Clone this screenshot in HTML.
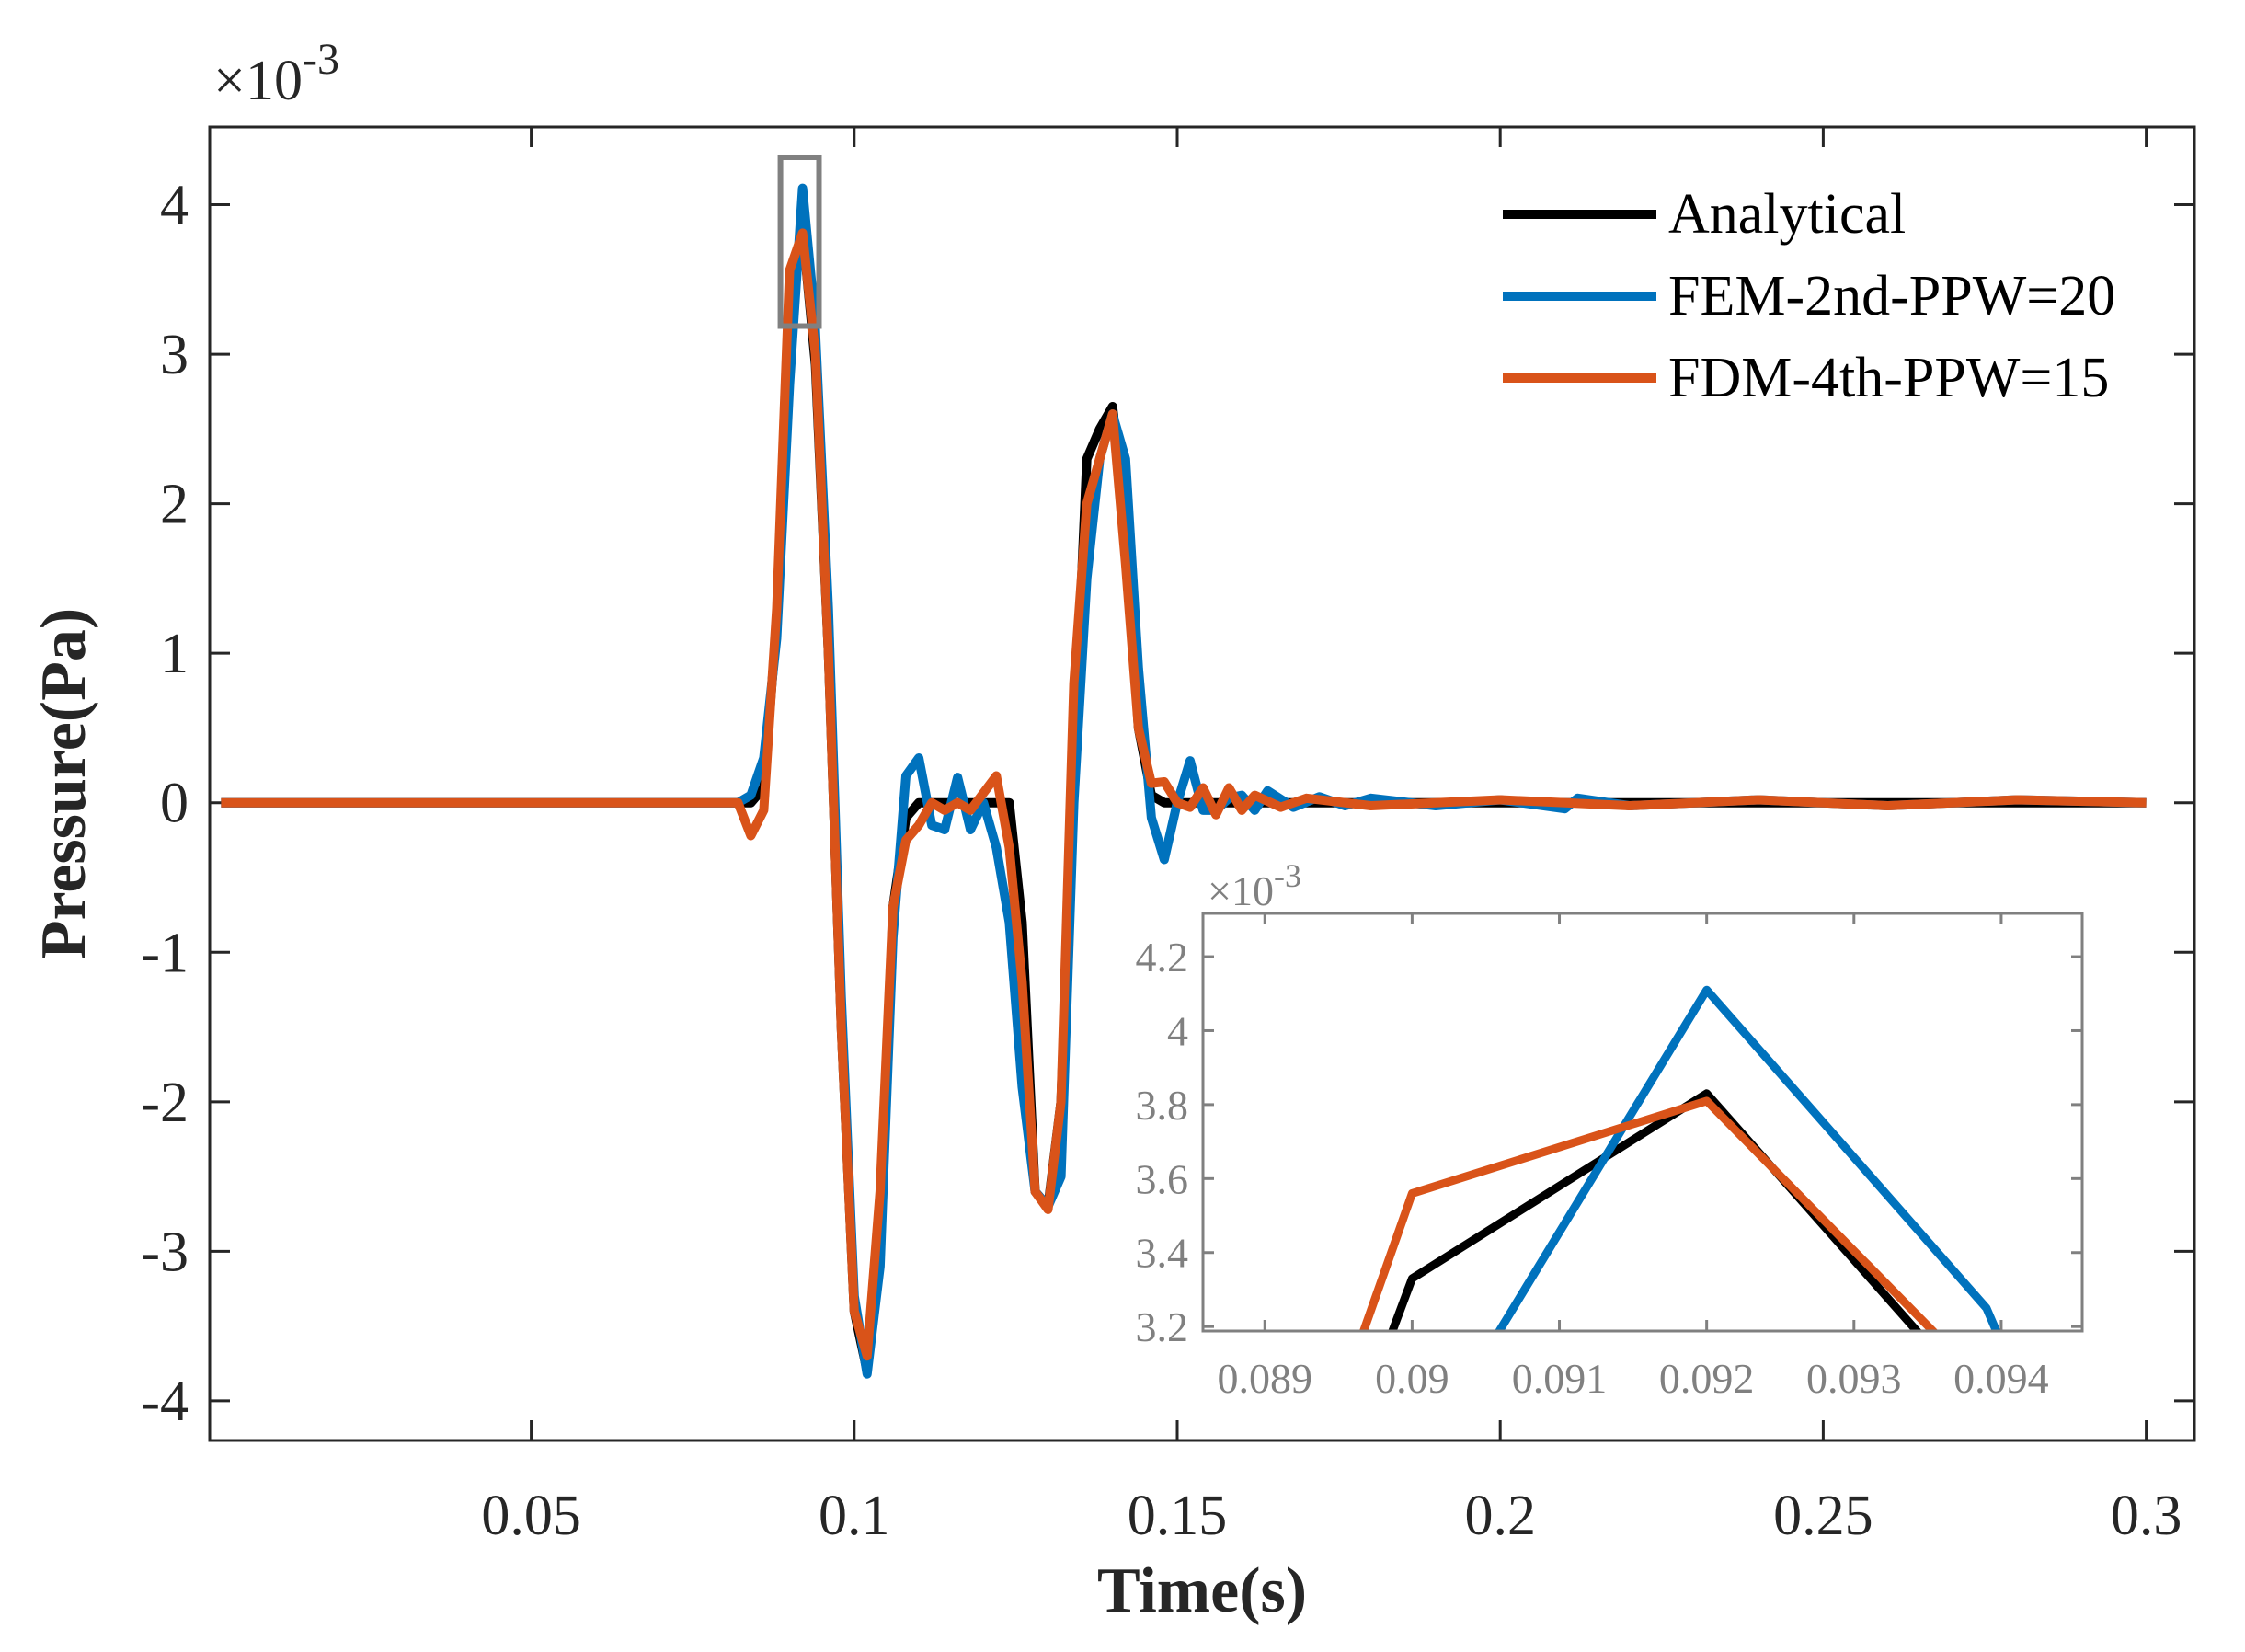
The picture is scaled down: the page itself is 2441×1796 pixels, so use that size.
<!DOCTYPE html>
<html><head><meta charset="utf-8"><style>
html,body{margin:0;padding:0;background:#fff;width:2441px;height:1796px;overflow:hidden;}
svg{display:block;}
text{font-family:"Liberation Serif",serif;}
</style></head><body>
<svg id="chart" width="2441" height="1796" viewBox="0 0 2441 1796" xmlns="http://www.w3.org/2000/svg">
<g id="main"></g>
<g id="inset"></g>
</svg>
<script>
// ---- data (pressure in 1e-3 Pa) ----
const anaT = [0.002,0.084,0.086,0.088,0.090,0.092,0.094,0.096,0.098,0.100,0.102,0.104,0.106,0.108,0.110,0.124,0.126,0.128,0.130,0.132,0.134,0.136,0.138,0.140,0.142,0.144,0.146,0.148,0.300];
const anaV = [0,0,0.1,1.2,3.33,3.83,2.93,1.0,-1.5,-3.4,-3.8,-3.0,-0.7,-0.1,0,0,-0.8,-2.6,-2.7,-2.0,0.3,2.3,2.5,2.65,1.9,0.5,0.05,0,0];
const femT = [0.002,0.082,0.084,0.086,0.088,0.090,0.092,0.0939,0.096,0.098,0.100,0.102,0.104,0.106,0.108,0.110,0.112,0.114,0.116,0.118,0.120,0.122,0.124,0.126,0.128,0.130,0.132,0.134,0.136,0.138,0.140,0.142,0.144,0.146,0.148,0.150,0.152,0.154,0.156,0.158,0.160,0.162,0.164,0.168,0.172,0.176,0.180,0.190,0.200,0.210,0.212,0.220,0.240,0.260,0.280,0.300];
const femV = [0,0,0.05,0.3,1.1,2.8,4.11,3.25,1.3,-1.3,-3.3,-3.82,-3.1,-0.9,0.18,0.3,-0.15,-0.18,0.17,-0.18,0.0,-0.3,-0.8,-1.9,-2.6,-2.7,-2.5,0.0,1.5,2.3,2.6,2.3,0.9,-0.1,-0.38,0.0,0.28,-0.05,-0.05,0.03,0.05,-0.05,0.08,-0.03,0.04,-0.02,0.03,-0.02,0.02,-0.04,0.03,-0.02,0.02,-0.02,0.02,0];
const fdmT = [0.002,0.082,0.084,0.086,0.088,0.090,0.092,0.094,0.096,0.098,0.100,0.102,0.104,0.106,0.108,0.110,0.112,0.114,0.116,0.118,0.122,0.124,0.126,0.128,0.130,0.132,0.134,0.136,0.138,0.140,0.142,0.144,0.146,0.148,0.150,0.152,0.154,0.156,0.158,0.160,0.162,0.166,0.170,0.180,0.200,0.220,0.240,0.260,0.280,0.300];
const fdmV = [0,0,-0.22,-0.05,1.3,3.56,3.81,3.0,1.0,-1.5,-3.4,-3.7,-2.6,-0.7,-0.25,-0.15,0.0,-0.05,0.0,-0.05,0.18,-0.3,-1.2,-2.6,-2.72,-2.0,0.8,2.0,2.3,2.6,1.6,0.5,0.13,0.14,0.0,-0.03,0.1,-0.08,0.1,-0.05,0.05,-0.03,0.03,-0.02,0.02,-0.02,0.02,-0.02,0.02,0];
const mainXTicks = [0.05,0.1,0.15,0.2,0.25,0.3];
const mainXLabels = ["0.05","0.1","0.15","0.2","0.25","0.3"];
const mainYTicks = [-4,-3,-2,-1,0,1,2,3,4];
const mainYLabels = ["-4","-3","-2","-1","0","1","2","3","4"];
const insXTicks = [0.089,0.090,0.091,0.092,0.093,0.094];
const insXLabels = ["0.089","0.09","0.091","0.092","0.093","0.094"];
const insYTicks = [3.2,3.4,3.6,3.8,4.0,4.2];
const insYLabels = ["3.2","3.4","3.6","3.8","4","4.2"];
const seriesNames = ["Analytical","FEM-2nd-PPW=20","FDM-4th-PPW=15"];

const NS="http://www.w3.org/2000/svg";
function mk(parent,tag,attrs,txt){const e=document.createElementNS(NS,tag);for(const k in attrs)e.setAttribute(k,attrs[k]);if(txt!==undefined)e.textContent=txt;parent.appendChild(e);return e;}
const colors=["#000000","#0072BD","#D95319"];
const series=[[anaT,anaV],[femT,femV],[fdmT,fdmV]];

const M={l:228,r:2386,t:138,b:1566,x0:0.000231,x1:0.30746,y0:-4.265,y1:4.52};
const mx=t=>M.l+(t-M.x0)/(M.x1-M.x0)*(M.r-M.l);
const my=v=>M.b-(v-M.y0)/(M.y1-M.y0)*(M.b-M.t);
const g=document.getElementById('main');
const clipM=mk(g,'clipPath',{id:'clipM'});mk(clipM,'rect',{x:M.l,y:M.t,width:M.r-M.l,height:M.b-M.t});
mk(g,'rect',{x:M.l,y:M.t,width:M.r-M.l,height:M.b-M.t,fill:'#fff',stroke:'#262626','stroke-width':3});
mainXTicks.forEach((t,i)=>{const x=mx(t);
 mk(g,'line',{x1:x,y1:M.b,x2:x,y2:M.b-22,stroke:'#262626','stroke-width':3});
 mk(g,'line',{x1:x,y1:M.t,x2:x,y2:M.t+22,stroke:'#262626','stroke-width':3});
 const tx=mk(g,'text',{x:x,y:1668,'font-size':62,'text-anchor':'middle',fill:'#262626'},mainXLabels[i]);
 
 });
mainYTicks.forEach((v,i)=>{const y=my(v);
 mk(g,'line',{x1:M.l,y1:y,x2:M.l+22,y2:y,stroke:'#262626','stroke-width':3});
 mk(g,'line',{x1:M.r,y1:y,x2:M.r-22,y2:y,stroke:'#262626','stroke-width':3});
 const tx=mk(g,'text',{x:205,y:y+21,'font-size':62,'text-anchor':'end',fill:'#262626'},mainYLabels[i]);
 
 });
const lg=mk(g,'g',{'clip-path':'url(#clipM)'});
series.forEach((s,k)=>{const pts=s[0].map((t,i)=>mx(t).toFixed(1)+','+my(s[1][i]).toFixed(1)).join(' ');
 const p=mk(lg,'polyline',{points:pts,fill:'none',stroke:colors[k],'stroke-width':10,'stroke-linejoin':'round'});
 
 });
const zr=mk(g,'rect',{x:mx(0.08858),y:my(4.317),width:mx(0.09455)-mx(0.08858),height:my(3.188)-my(4.317),fill:'none',stroke:'#808080','stroke-width':6});


seriesNames.forEach((n,k)=>{const y=233+k*89;
 const ln=mk(g,'line',{x1:1634,y1:y,x2:1801,y2:y,stroke:colors[k],'stroke-width':10});
 
 
 const tx=mk(g,'text',{x:1814,y:y+20,'font-size':62,fill:'#000'},n);
 
 });
const ex=mk(g,'text',{x:232,y:108,'font-size':62,fill:'#262626'});


mk(ex,'tspan',{},'×10');mk(ex,'tspan',{dy:-28,'font-size':48},'-3');
const yt=mk(g,'text',{x:0,y:0,'font-size':70,'font-weight':'bold','text-anchor':'middle',fill:'#262626',transform:'translate(92,852) rotate(-90)'},'Pressure(Pa)');


const xt=mk(g,'text',{x:1307,y:1752,'font-size':70,'font-weight':'bold','text-anchor':'middle',fill:'#262626'},'Time(s)');



const I={l:1308,r:2264,t:993,b:1447,x0:0.08858,x1:0.09455,y0:3.188,y1:4.317};
const ix=t=>I.l+(t-I.x0)/(I.x1-I.x0)*(I.r-I.l);
const iy=v=>I.b-(v-I.y0)/(I.y1-I.y0)*(I.b-I.t);
const h=document.getElementById('inset');
const clipI=mk(h,'clipPath',{id:'clipI'});mk(clipI,'rect',{x:I.l,y:I.t,width:I.r-I.l,height:I.b-I.t});
const ib=mk(h,'rect',{x:I.l,y:I.t,width:I.r-I.l,height:I.b-I.t,fill:'#fff',stroke:'none'});


insXTicks.forEach((t,i)=>{const x=ix(t);
 mk(h,'line',{x1:x,y1:I.b,x2:x,y2:I.b-12,stroke:'#808080','stroke-width':3});
 mk(h,'line',{x1:x,y1:I.t,x2:x,y2:I.t+12,stroke:'#808080','stroke-width':3});
 const tx=mk(h,'text',{x:x,y:1514,'font-size':46,'text-anchor':'middle',fill:'#808080'},insXLabels[i]);
 
 });
insYTicks.forEach((v,i)=>{const y=iy(v);
 mk(h,'line',{x1:I.l,y1:y,x2:I.l+12,y2:y,stroke:'#808080','stroke-width':3});
 mk(h,'line',{x1:I.r,y1:y,x2:I.r-12,y2:y,stroke:'#808080','stroke-width':3});
 const tx=mk(h,'text',{x:1292,y:y+16,'font-size':46,'text-anchor':'end',fill:'#808080'},insYLabels[i]);
 
 });
const il=mk(h,'g',{'clip-path':'url(#clipI)'});
series.forEach((s,k)=>{const pts=s[0].map((t,i)=>ix(t).toFixed(1)+','+iy(s[1][i]).toFixed(1)).join(' ');
 const p=mk(il,'polyline',{points:pts,fill:'none',stroke:colors[k],'stroke-width':9,'stroke-linejoin':'round'});
 
 });
mk(h,'rect',{x:I.l,y:I.t,width:I.r-I.l,height:I.b-I.t,fill:'none',stroke:'#808080','stroke-width':3});
const iex=mk(h,'text',{x:1313,y:984,'font-size':46,fill:'#808080'});


mk(iex,'tspan',{},'×10');mk(iex,'tspan',{dy:-20,'font-size':36},'-3');
</script>
</body></html>
